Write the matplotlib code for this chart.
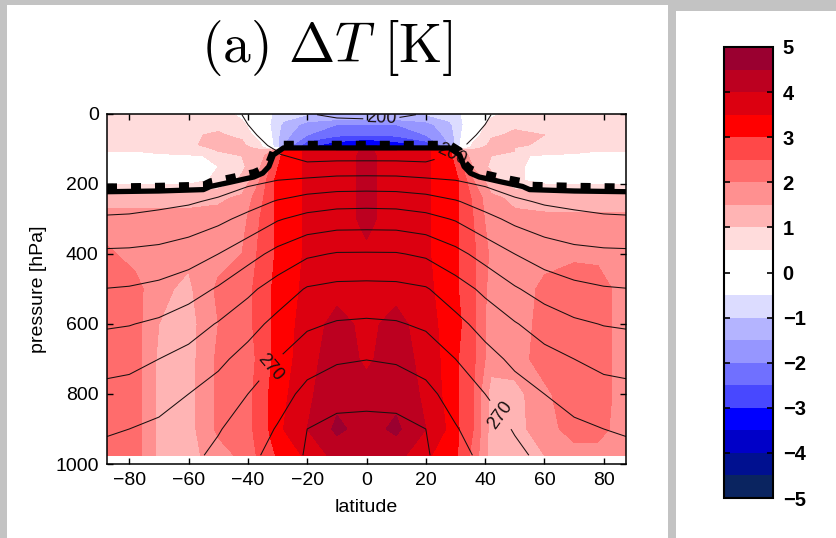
import numpy as np
import matplotlib.pyplot as plt
from matplotlib.patches import Rectangle

plt.rcParams['font.family'] = ['Liberation Sans', 'DejaVu Sans']
plt.rcParams['mathtext.fontset'] = 'cm'

# ---- temperature change dT [K] ----
lat_dt = np.array([-87.5, -78, -70, -60, -50, -42, -36, -32, -28, -20, -10, 0,
                   10, 20, 28, 32, 36, 42, 50, 60, 70, 78, 87.5])
p_dt = np.array([2, 30, 60, 88, 96, 106, 120, 150, 190, 240, 300, 400,
                 500, 600, 700, 800, 900, 975])
dT = np.array([
    [0.7, 0.8, 0.8, 0.8, 0.7, 0.4, 0.0, -0.5, -0.8, -1.0, -1.0, -1.0, -1.0, -1.0, -0.8, -0.5, 0.0, 0.4, 0.7, 0.8, 0.8, 0.7, 0.6],
    [0.7, 0.8, 0.8, 0.9, 0.9, 0.6, 0.1, -0.6, -1.1, -1.7, -2.0, -2.0, -2.0, -1.7, -1.1, -0.6, 0.1, 0.7, 0.95, 0.95, 0.9, 0.8, 0.7],
    [0.7, 0.8, 0.9, 0.95, 1.05, 0.9, 0.2, -0.5, -1.3, -2.0, -2.4, -2.5, -2.4, -2.0, -1.3, -0.5, 0.2, 0.95, 1.05, 1.0, 0.9, 0.8, 0.7],
    [0.6, 0.7, 0.8, 0.95, 1.1, 1.1, 0.6, -0.4, -1.5, -2.8, -3.3, -3.6, -3.3, -2.8, -1.5, -0.4, 0.6, 1.1, 1.05, 0.95, 0.8, 0.7, 0.6],
    [0.6, 0.6, 0.7, 0.9, 1.05, 1.2, 0.8, -0.2, -1.6, -2.9, -3.4, -3.7, -3.4, -2.9, -1.6, -0.2, 0.8, 1.2, 1.0, 0.9, 0.7, 0.6, 0.6],
    [0.5, 0.5, 0.6, 0.8, 1.0, 1.2, 1.2, 1.5, 3.3, 3.55, 3.7, 4.1, 3.7, 3.55, 3.3, 1.5, 1.2, 1.2, 1.0, 0.8, 0.6, 0.5, 0.5],
    [0.4, 0.4, 0.4, 0.4, 0.6, 1.0, 1.3, 1.8, 3.3, 3.55, 3.7, 4.15, 3.7, 3.55, 3.3, 1.8, 1.3, 1.0, 0.6, 0.4, 0.4, 0.4, 0.4],
    [0.2, 0.2, 0.2, 0.3, 0.5, 0.9, 1.4, 2.6, 3.3, 3.55, 3.7, 4.15, 3.7, 3.55, 3.3, 2.6, 1.4, 0.9, 0.6, 0.3, 0.2, 0.2, 0.2],
    [0.3, 0.3, 0.3, 0.3, 0.6, 1.1, 2.0, 2.9, 3.3, 3.55, 3.7, 4.15, 3.7, 3.55, 3.3, 2.9, 2.0, 1.2, 0.6, 0.3, 0.3, 0.3, 0.3],
    [1.3, 1.3, 1.3, 1.3, 1.4, 1.6, 2.3, 2.9, 3.3, 3.55, 3.7, 4.15, 3.7, 3.55, 3.3, 2.9, 2.4, 1.6, 1.4, 1.3, 1.3, 1.3, 1.3],
    [1.7, 1.7, 1.7, 1.7, 1.7, 1.8, 2.5, 2.9, 3.3, 3.55, 3.7, 4.15, 3.7, 3.55, 3.3, 2.9, 2.5, 1.7, 1.6, 1.6, 1.6, 1.6, 1.6],
    [2.1, 1.8, 1.7, 1.6, 1.8, 2.0, 2.6, 2.9, 3.3, 3.55, 3.7, 3.9, 3.7, 3.55, 3.3, 2.9, 2.6, 1.9, 1.7, 1.7, 1.9, 1.9, 1.7],
    [2.2, 2.2, 1.6, 1.4, 2.1, 2.2, 2.7, 3.0, 3.3, 3.6, 3.8, 3.7, 3.8, 3.6, 3.3, 2.9, 2.6, 1.8, 1.5, 2.2, 2.3, 2.2, 1.8],
    [2.2, 2.2, 1.5, 1.3, 2.0, 2.2, 2.7, 3.0, 3.3, 3.7, 4.2, 3.85, 4.2, 3.7, 3.3, 3.0, 2.6, 1.7, 1.7, 2.2, 2.3, 2.2, 1.8],
    [2.2, 2.2, 1.4, 1.3, 2.1, 2.2, 2.6, 3.0, 3.3, 3.8, 4.3, 3.9, 4.3, 3.8, 3.3, 2.9, 2.6, 1.7, 1.8, 2.2, 2.3, 2.2, 1.8],
    [2.2, 2.2, 1.4, 1.3, 2.1, 2.2, 2.7, 3.1, 3.4, 3.9, 4.35, 4.2, 4.35, 3.9, 3.3, 2.9, 2.5, 1.3, 1.3, 1.9, 2.3, 2.2, 1.8],
    [2.2, 2.2, 1.4, 1.3, 2.1, 2.2, 2.7, 3.1, 3.5, 4.0, 4.6, 4.3, 4.6, 4.0, 3.4, 2.9, 2.5, 1.3, 1.3, 1.8, 2.2, 2.2, 1.7],
    [2.2, 2.2, 1.4, 1.3, 1.8, 2.1, 2.6, 2.9, 3.2, 3.6, 4.2, 4.3, 4.2, 3.6, 3.2, 2.9, 2.3, 1.3, 1.3, 1.5, 1.8, 1.8, 1.6],
])

dt_levels = np.arange(-5, 5.01, 0.5)
dt_colors = ['#0a2460', '#001090', '#0000c8', '#0000ff', '#4848ff', '#7070ff',
             '#9696ff', '#b4b4ff', '#dcdcff', '#ffffff', '#ffffff', '#ffdcdc',
             '#ffb4b4', '#ff9090', '#ff6c6c', '#ff4848', '#ff0000', '#dc0010',
             '#bc0020', '#9a0030']

# ---- control temperature [K], northern half (mirrored to the south) ----
lat_T_half = np.array([0, 10, 20, 30, 40, 50, 60, 70, 80, 87.5])
p_T = np.array([2, 30, 60, 90, 115, 150, 200, 250, 300, 400, 500, 600, 700, 800, 900, 975])
T_half = np.array([
    [203.0, 202.0, 199.0, 198.0, 199.0, 204.0, 205.0, 205.0, 205.0, 205.0],
    [196.0, 196.0, 196.0, 197.5, 200.0, 204.5, 205.0, 205.0, 205.0, 205.0],
    [193.0, 193.0, 193.5, 197.0, 201.3, 205.0, 205.0, 205.0, 205.0, 205.0],
    [192.0, 192.0, 192.5, 199.0, 202.0, 205.0, 205.0, 205.0, 205.0, 205.0],
    [195.5, 195.5, 195.0, 200.5, 203.0, 205.0, 205.0, 205.0, 205.0, 205.0],
    [203.9, 203.8, 203.0, 204.5, 204.0, 205.0, 205.0, 205.0, 205.0, 205.0],
    [215.4, 215.2, 213.7, 211.5, 209.0, 205.5, 205.5, 205.5, 205.5, 205.5],
    [226.7, 226.3, 224.5, 220.8, 215.8, 211.5, 208.9, 208.0, 207.3, 207.6],
    [235.2, 235.0, 233.1, 229.2, 222.9, 217.6, 214.3, 212.2, 211.1, 210.7],
    [250.8, 250.7, 248.5, 242.9, 236.3, 230.0, 225.3, 222.9, 221.9, 221.7],
    [262.8, 262.5, 260.8, 254.5, 247.8, 241.0, 235.8, 232.4, 230.7, 230.2],
    [271.4, 270.8, 268.5, 262.9, 256.4, 250.7, 245.5, 241.7, 239.6, 238.9],
    [279.8, 278.8, 275.7, 270.0, 263.5, 257.9, 253.3, 250.0, 247.0, 246.4],
    [286.8, 286.3, 282.9, 275.6, 270.0, 263.9, 260.0, 256.3, 253.8, 252.8],
    [293.3, 293.0, 290.0, 280.8, 274.0, 269.4, 264.6, 261.9, 260.0, 258.8],
    [298.0, 297.5, 291.0, 284.0, 277.0, 271.8, 268.0, 265.5, 264.0, 263.0],
])
T_levels = np.arange(200, 291, 10)

# ---- tropopause (solid: perturbed, dashed: control), northern half ----
trop_lat_half = np.array([0, 28, 31.4, 32.9, 35, 38, 41.3, 46, 52.6, 55, 70, 87.5])
trop_p_half = np.array([97, 97, 117, 150, 169, 180, 186, 195, 207, 216, 220, 222])
ctrl_p_half = np.array([86, 86, 104, 137, 156, 167, 173, 182, 193, 203, 206, 208])


def mirror(lat_half, vals_half):
    lat = np.concatenate([-lat_half[:0:-1], lat_half])
    vals = np.concatenate([vals_half[..., :0:-1], vals_half], axis=-1)
    return lat, vals


lat_T, T = mirror(lat_T_half, T_half)
trop_lat, trop_p = mirror(trop_lat_half, trop_p_half)
_, ctrl_p = mirror(trop_lat_half, ctrl_p_half)

W, H = 836, 538
fig = plt.figure(figsize=(W / 100, H / 100), dpi=100, facecolor='#c3c3c3')
fig.patches.append(Rectangle((7 / W, 0), 661 / W, 533 / H, transform=fig.transFigure,
                             facecolor='white', edgecolor='none', zorder=-5))
fig.patches.append(Rectangle((676 / W, 0), 160 / W, 527 / H, transform=fig.transFigure,
                             facecolor='white', edgecolor='none', zorder=-5))

ax = fig.add_axes([107 / W, 74 / H, 519 / W, 350 / H])
ax.set_zorder(2)
cf = ax.contourf(lat_dt, p_dt, dT, levels=dt_levels, colors=dt_colors, zorder=1)
cs = ax.contour(lat_T, p_T, T, levels=T_levels, colors='#1a1010', linewidths=0.75, zorder=2)
lbls = ax.clabel(cs, manual=[(5, 6), (29.5, 135), (-35, 705), (46, 855)], fmt='%d',
                 fontsize=13, inline=True, inline_spacing=3)
for t in lbls:
    t.set_clip_on(True)

ax.plot(trop_lat, trop_p, color='k', lw=3.8, solid_capstyle='butt', zorder=4)
ax.plot(trop_lat, ctrl_p, color='k', lw=4.8, dashes=(1.5, 2.1),
        dash_capstyle='butt', zorder=4)

ax.set_xlim(-87.5, 87.5)
ax.set_ylim(1000, 0)
ax.set_xticks(np.arange(-80, 81, 20))
ax.set_yticks(np.arange(0, 1001, 200))
ax.tick_params(direction='in', top=True, right=True, length=4.5, width=1,
               labelsize=14, pad=6)
for s in ax.spines.values():
    s.set_linewidth(1.1)
ax.set_xlabel('latitude', fontsize=14, labelpad=7)
ax.set_ylabel('pressure [hPa]', fontsize=14, labelpad=6)

fig.text(327 / W, 1 - 48 / H, r'$\mathrm{(a)}\ \Delta T\ \mathrm{[K]}$',
         fontsize=40, ha='center', va='center')

cax = fig.add_axes([724 / W, 40 / H, 49 / W, 451 / H])
cax.set_zorder(2)
cb = fig.colorbar(cf, cax=cax, ticks=range(-5, 6))
cb.outline.set_linewidth(1.5)
cax.tick_params(direction='in', left=True, right=True, length=4, width=1.2,
                labelsize=14.5, pad=7)
for lbl in cax.get_yticklabels():
    lbl.set_fontweight('bold')

fig.savefig('out.png', dpi=100, facecolor=fig.get_facecolor())
